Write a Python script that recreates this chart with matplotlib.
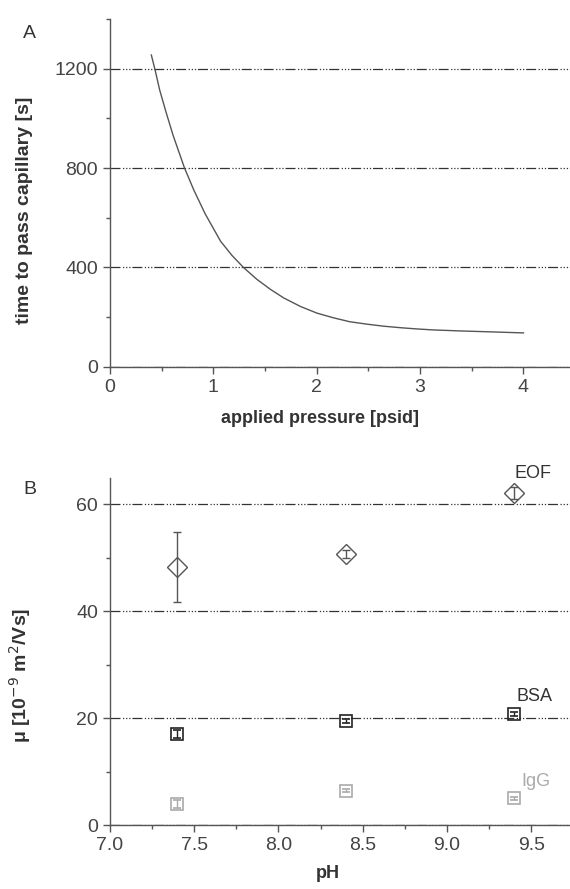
import matplotlib
matplotlib.use("Agg")
import matplotlib.pyplot as plt
from matplotlib.ticker import MultipleLocator

plt.rcParams['font.family'] = ['Liberation Sans', 'DejaVu Sans']

# panel A: time to pass capillary vs applied pressure
pressure = [0.40, 0.44, 0.48, 0.54, 0.61, 0.72, 0.81, 0.92, 1.07, 1.18, 1.29, 1.42, 1.55, 1.68, 1.84,
            2.00, 2.16, 2.32, 2.49, 2.65, 2.81, 2.97, 3.13, 3.39, 3.78, 4.00]
passTime = [1255, 1188, 1115, 1028, 932, 801, 712, 616, 505, 448, 400, 352, 312, 277, 243,
            216, 197, 181, 171, 163, 157, 152, 148, 144, 139, 136]

# panel B: mobilities vs pH
pH = [7.4, 8.4, 9.4]
eof = [48.3, 50.7, 62.1]
eofErr = [6.6, 0.7, 1.1]
bsa = [17.0, 19.4, 20.8]
bsaErr = [0.8, 0.4, 0.4]
igg = [3.9, 6.4, 5.0]
iggErr = [0.8, 0.3, 0.3]

gridStyle = (0, (8, 2, 1, 1.5, 1, 1.5, 1, 1.5))
axisColor = "#555555"
textColor = "#333333"

fig = plt.figure(figsize=(5.7, 8.89), dpi=100)
axA = fig.add_axes([110/570, 1-366.7/889, 460/570, 347.7/889])
axB = fig.add_axes([110/570, 1-825/889, 460/570, 347.3/889])

for ax in (axA, axB):
    for side in ("top", "right"):
        ax.spines[side].set_visible(False)
    for side in ("left", "bottom"):
        ax.spines[side].set_color(axisColor)
        ax.spines[side].set_linewidth(1.0)
    ax.tick_params(which="major", direction="out", length=5, width=1, color=axisColor,
                   labelsize=14, labelcolor="#444444")
    ax.tick_params(which="minor", direction="out", length=3, width=1, color=axisColor)
    ax.yaxis.grid(True, which="major", color="#333333", linestyle=gridStyle, linewidth=0.9)
    ax.set_axisbelow(True)

# panel A
axA.plot(pressure, passTime, color="#555555", linewidth=1.0)
axA.set_xlim(0, 4.45)
axA.set_ylim(0, 1400)
axA.set_xticks([0, 1, 2, 3, 4])
axA.set_yticks([0, 400, 800, 1200])
axA.xaxis.set_minor_locator(MultipleLocator(0.5))
axA.yaxis.set_minor_locator(MultipleLocator(200))
axA.set_xlabel("applied pressure [psid]", fontsize=13, fontweight="bold", color=textColor)
axA.set_ylabel("time to pass capillary [s]", fontsize=14, fontweight="bold", color=textColor)
axA.xaxis.set_label_coords(0.457, -0.125)
axA.yaxis.set_label_coords(-0.167, 0.45)

# panel B
axB.errorbar(pH, eof, yerr=eofErr, fmt="D", ms=10, mfc="none", mec="#555555", mew=1.0,
             ecolor="#555555", elinewidth=1.0, capsize=3, zorder=3)
axB.errorbar(pH, bsa, yerr=bsaErr, fmt="s", ms=9, mfc="none", mec="#222222", mew=1.2,
             ecolor="#222222", elinewidth=1.0, capsize=3, zorder=3)
axB.errorbar(pH, igg, yerr=iggErr, fmt="s", ms=9, mfc="none", mec="#aaaaaa", mew=1.2,
             ecolor="#aaaaaa", elinewidth=1.0, capsize=3, zorder=3)
axB.text(9.51, 65.7, "EOF", fontsize=13, color=textColor, ha="center", va="center", clip_on=False)
axB.text(9.52, 24.1, "BSA", fontsize=13, color=textColor, ha="center", va="center")
axB.text(9.53, 8.1, "IgG", fontsize=13, color="#aaaaaa", ha="center", va="center")
axB.set_xlim(7.0, 9.73)
axB.set_ylim(0, 65)
axB.set_xticks([7.0, 7.5, 8.0, 8.5, 9.0, 9.5])
axB.set_xticklabels(["7.0", "7.5", "8.0", "8.5", "9.0", "9.5"])
axB.set_yticks([0, 20, 40, 60])
axB.xaxis.set_minor_locator(MultipleLocator(0.25))
axB.yaxis.set_minor_locator(MultipleLocator(10))
axB.set_xlabel("pH", fontsize=13, fontweight="bold", color=textColor)
axB.set_ylabel(r"μ [10$^{-9}$ m$^{2}$/Vs]", fontsize=14, fontweight="bold", color=textColor)
axB.xaxis.set_label_coords(0.474, -0.115)
axB.yaxis.set_label_coords(-0.167, 0.43)

fig.text(29/570, 1-33/889, "A", fontsize=14, color=textColor, ha="center", va="center")
fig.text(30/570, 1-490/889, "B", fontsize=14, color=textColor, ha="center", va="center")

fig.savefig("out.png", dpi=100)
